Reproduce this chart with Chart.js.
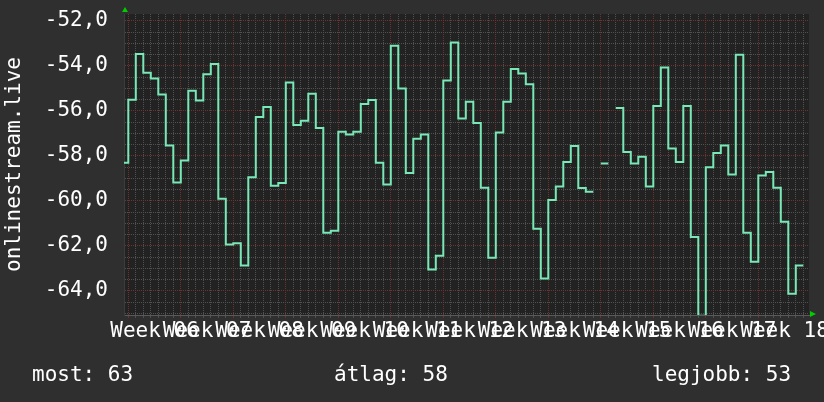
<!DOCTYPE html>
<html>
<head>
<meta charset="utf-8">
<script src="https://cdn.jsdelivr.net/npm/chart.js@4/dist/chart.umd.min.js"></script>
<style>
  html, body { margin: 0; padding: 0; background: #2f2f2f; }
  #wrap { position: relative; width: 824px; height: 402px; overflow: hidden; }
  canvas { position: absolute; left: 0; top: 0; }
  .leg { position: absolute; top: 362px; font-family: 'DejaVu Sans Mono', monospace; font-size: 21px; line-height: 24px; color: #ffffff; white-space: pre; }
</style>
</head>
<body>
<div id="wrap">
  <canvas id="c" width="824" height="402"></canvas>
  <div class="leg" id="legNow" style="left:32px"></div>
  <div class="leg" id="legAvg" style="left:334px"></div>
  <div class="leg" id="legBest" style="left:652px"></div>
</div>
<script>
// ---- data ----
const seriesName = 'onlinestream.live';
// first day index of the series (day 0 = Monday of Week 06)
const firstDay = -1;
// one value per day (null = no data)
const dailyValues = [
  -58.3,
  -55.5, -53.47, -54.3, -54.56, -55.27, -57.54, -59.18,
  -58.2, -55.1, -55.54, -54.37, -53.91, -59.9, -61.94,
  -61.88, -62.87, -58.95, -56.27, -55.82, -59.32, -59.2,
  -54.74, -56.62, -56.43, -55.23, -56.76, -61.41, -61.33,
  -56.92, -57.05, -56.92, -55.69, -55.51, -58.3, -59.27,
  -53.1, -55.0, -58.76, -57.23, -57.05, -63.05, -62.44,
  -54.65, -52.96, -56.34, -55.59, -56.53, -59.41, -62.53,
  -56.96, -55.59, -54.13, -54.33, -54.81, -61.24, -63.45,
  -59.96, -59.36, -58.27, -57.56, -59.42, -59.59, null,
  -58.34, null, -55.87, -57.82, -58.34, -58.03, -59.36,
  -55.78, -54.07, -57.67, -58.27, -55.78, -61.6, -65.1,
  -58.5, -57.87, -57.54, -58.83, -53.5, -61.41, -62.7,
  -58.87, -58.71, -59.41, -60.92, -64.12, -62.87
];
const weekLabels = ['Week 06','Week 07','Week 08','Week 09','Week 10','Week 11','Week 12',
                    'Week 13','Week 14','Week 15','Week 16','Week 17','Week 18'];
const yTickValues = [-52, -54, -56, -58, -60, -62, -64];
const legendNow = 'most: 63';
const legendAvg = 'átlag: 58';
const legendBest = 'legjobb: 53';

document.getElementById('legNow').textContent = legendNow;
document.getElementById('legAvg').textContent = legendAvg;
document.getElementById('legBest').textContent = legendBest;

// ---- build step table (each daily value held over its day) ----
const points = [];
dailyValues.forEach((v, i) => {
  const d = firstDay + i;
  if (v === null) { points.push({x: d, y: null}); return; }
  points.push({x: d, y: v});
  points.push({x: d + 1, y: v});
});

const DAYS_PER_WEEK = 7;
const weekCenters = weekLabels.map((_, k) => k * DAYS_PER_WEEK + DAYS_PER_WEEK / 2);

const GRID_MINOR = '#505050';
const GRID_MAJOR = '#6e3232';
const NONE = 'rgba(0,0,0,0)';

const plotBg = {
  id: 'plotBg',
  beforeDraw(chart) {
    const {ctx, chartArea: a} = chart;
    ctx.save();
    ctx.fillStyle = '#222222';
    ctx.fillRect(a.left, a.top, a.right - a.left, a.bottom - a.top);
    ctx.restore();
  },
  afterDraw(chart) {
    const {ctx, chartArea: a} = chart;
    ctx.save();
    ctx.fillStyle = '#00cc00';
    const x = a.left + 1;
    ctx.beginPath();
    ctx.moveTo(x - 3, a.top - 2); ctx.lineTo(x + 3, a.top - 2); ctx.lineTo(x, a.top - 7); ctx.closePath(); ctx.fill();
    const y = a.bottom - 1;
    ctx.beginPath();
    ctx.moveTo(a.right + 1, y - 3); ctx.lineTo(a.right + 1, y + 3); ctx.lineTo(a.right + 7, y); ctx.closePath(); ctx.fill();
    ctx.restore();
  }
};

Chart.defaults.font.family = "'DejaVu Sans Mono', monospace";
Chart.defaults.font.size = 21;
Chart.defaults.color = '#ffffff';

new Chart(document.getElementById('c'), {
  type: 'line',
  data: {
    datasets: [{
      label: seriesName,
      data: points,
      borderColor: '#78e8b6',
      borderWidth: 2,
      pointRadius: 0,
      tension: 0,
      spanGaps: false,
      fill: false
    }]
  },
  options: {
    responsive: false,
    animation: false,
    devicePixelRatio: 1,
    layout: { padding: { left: 0, top: 14, right: 15, bottom: 0 } },
    plugins: { legend: { display: false }, tooltip: { enabled: false } },
    scales: {
      x: {
        type: 'linear',
        min: -0.573,
        max: 90.76,
        afterBuildTicks(scale) {
          const t = [];
          for (let d = 0; d <= Math.floor(scale.max); d++) t.push({value: d});
          weekCenters.forEach(v => t.push({value: v}));
          t.sort((a, b) => a.value - b.value);
          scale.ticks = t;
        },
        afterFit(scale) {
          scale.height = 87;
          scale.paddingLeft = 0;
          scale.paddingRight = 0;
        },
        ticks: {
          autoSkip: false,
          maxRotation: 0,
          minRotation: 0,
          padding: 1,
          color: '#ffffff',
          callback(value) {
            const k = weekCenters.indexOf(value);
            return k >= 0 ? weekLabels[k] : '';
          }
        },
        grid: {
          drawTicks: true,
          tickLength: 3,
          lineWidth: 1,
          color(ctx) {
            const v = ctx.tick ? ctx.tick.value : 0;
            if (!Number.isInteger(v)) return NONE;
            return v % DAYS_PER_WEEK === 0 ? GRID_MAJOR : GRID_MINOR;
          },
          tickColor(ctx) {
            const v = ctx.tick ? ctx.tick.value : 0;
            if (!Number.isInteger(v)) return NONE;
            return v % DAYS_PER_WEEK === 0 ? GRID_MAJOR : GRID_MINOR;
          }
        },
        border: { display: true, color: '#5a5a5a', width: 1, dash: [1, 1] }
      },
      y: {
        type: 'linear',
        min: -65.07,
        max: -51.69,
        afterBuildTicks(scale) {
          const t = [];
          for (let v = -65; v <= -52; v += 0.5) t.push({value: v});
          scale.ticks = t;
        },
        afterFit(scale) {
          scale.width = 124;
          scale.paddingTop = 0;
          scale.paddingBottom = 0;
        },
        ticks: {
          autoSkip: false,
          padding: 16,
          color: '#ffffff',
          callback(value) {
            return yTickValues.includes(value) ? value.toFixed(1).replace('.', ',') : '';
          }
        },
        grid: {
          drawTicks: false,
          lineWidth: 1,
          color(ctx) {
            const v = ctx.tick ? ctx.tick.value : 0;
            return yTickValues.includes(v) ? GRID_MAJOR : GRID_MINOR;
          }
        },
        border: { display: true, color: '#3c3c3c', width: 1, dash: [1, 1] },
        title: {
          display: true,
          text: seriesName,
          color: '#ffffff',
          font: { size: 21 },
          padding: { top: 1.5, bottom: 0 }
        }
      }
    }
  },
  plugins: [plotBg]
});
</script>
</body>
</html>
